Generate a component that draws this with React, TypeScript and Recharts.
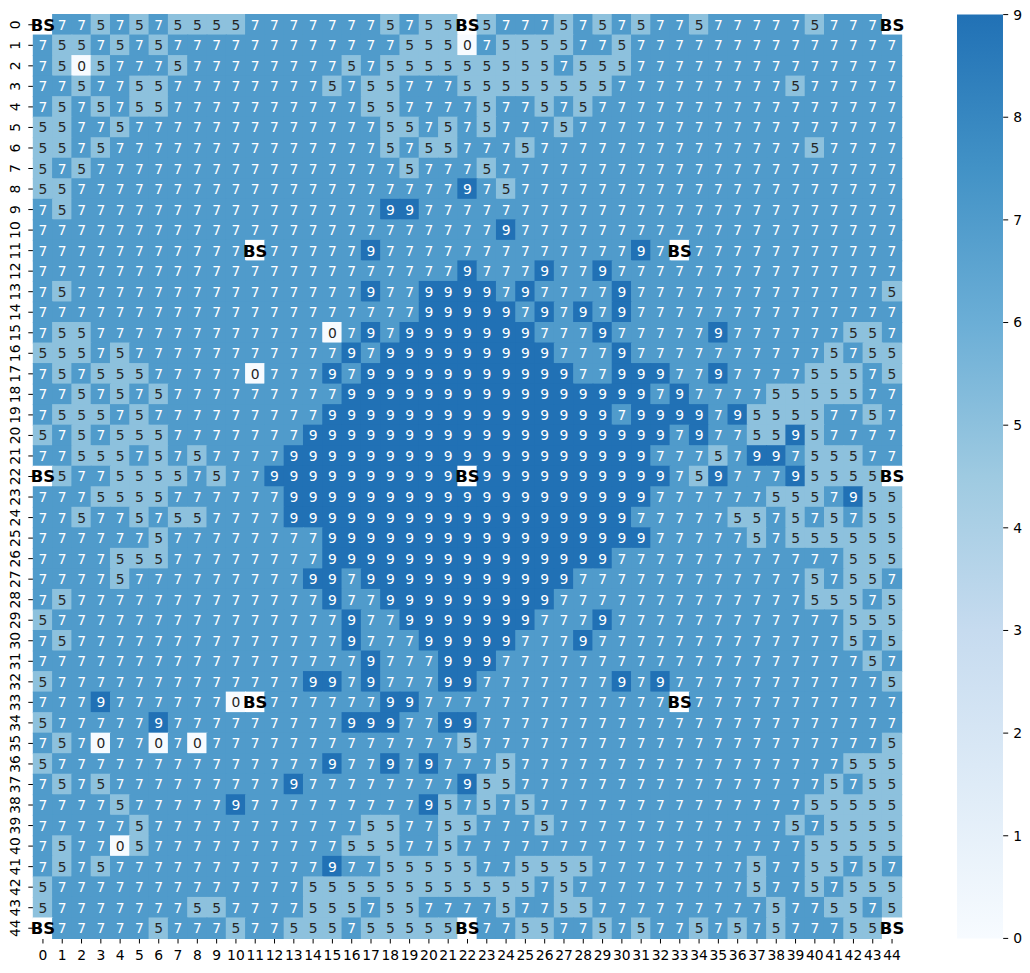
import { ScatterChart, Scatter, XAxis, YAxis, BarChart, Bar } from "recharts";

// B marks a "BS" cell: masked (white) with a bold label
const B = null;

const r00 = [B,7,7,5,7, 5,7,5,5,5, 5,7,7,7,7, 7,7,7,5,7, 5,5,B,5,7, 7,7,5,7,5, 7,5,7,7,5, 7,7,7,7,7, 5,7,7,7,B];
const r01 = [7,5,5,7,5, 7,5,7,7,7, 7,7,7,7,7, 7,7,7,7,5, 5,5,0,7,5, 5,5,5,7,7, 5,7,7,7,7, 7,7,7,7,7, 7,7,7,7,7];
const r02 = [7,5,0,5,7, 7,7,5,7,7, 7,7,7,7,7, 7,5,7,5,5, 5,5,5,5,5, 5,5,7,5,5, 5,7,7,7,7, 7,7,7,7,7, 7,7,7,7,7];
const r03 = [7,7,5,7,7, 5,5,7,7,7, 7,7,7,7,7, 5,7,5,5,7, 7,7,5,5,5, 5,5,5,5,5, 7,7,7,7,7, 7,7,7,7,5, 7,7,7,7,7];
const r04 = [7,5,7,5,7, 5,5,7,7,7, 7,7,7,7,7, 7,7,5,5,7, 7,7,7,5,7, 7,5,7,5,7, 7,7,7,7,7, 7,7,7,7,7, 7,7,7,7,7];
const r05 = [5,5,7,7,5, 7,7,7,7,7, 7,7,7,7,7, 7,7,7,5,5, 7,5,7,5,7, 7,7,5,7,7, 7,7,7,7,7, 7,7,7,7,7, 7,7,7,7,7];
const r06 = [5,5,7,5,7, 7,7,7,7,7, 7,7,7,7,7, 7,7,7,5,7, 5,5,7,7,7, 5,7,7,7,7, 7,7,7,7,7, 7,7,7,7,7, 5,7,7,7,7];
const r07 = [5,7,5,7,7, 7,7,7,7,7, 7,7,7,7,7, 7,7,7,7,5, 7,7,7,5,7, 7,7,7,7,7, 7,7,7,7,7, 7,7,7,7,7, 7,7,7,7,7];
const r08 = [5,5,7,7,7, 7,7,7,7,7, 7,7,7,7,7, 7,7,7,7,7, 7,7,9,7,5, 7,7,7,7,7, 7,7,7,7,7, 7,7,7,7,7, 7,7,7,7,7];
const r09 = [7,5,7,7,7, 7,7,7,7,7, 7,7,7,7,7, 7,7,7,9,9, 7,7,7,7,7, 7,7,7,7,7, 7,7,7,7,7, 7,7,7,7,7, 7,7,7,7,7];
const r10 = [7,7,7,7,7, 7,7,7,7,7, 7,7,7,7,7, 7,7,7,7,7, 7,7,7,7,9, 7,7,7,7,7, 7,7,7,7,7, 7,7,7,7,7, 7,7,7,7,7];
const r11 = [7,7,7,7,7, 7,7,7,7,7, 7,B,7,7,7, 7,7,9,7,7, 7,7,7,7,7, 7,7,7,7,7, 7,9,7,B,7, 7,7,7,7,7, 7,7,7,7,7];
const r12 = [7,7,7,7,7, 7,7,7,7,7, 7,7,7,7,7, 7,7,7,7,7, 7,7,9,7,7, 7,9,7,7,9, 7,7,7,7,7, 7,7,7,7,7, 7,7,7,7,7];
const r13 = [7,5,7,7,7, 7,7,7,7,7, 7,7,7,7,7, 7,7,9,7,7, 9,9,9,9,7, 9,7,7,7,7, 9,7,7,7,7, 7,7,7,7,7, 7,7,7,7,5];
const r14 = [7,7,7,7,7, 7,7,7,7,7, 7,7,7,7,7, 7,7,7,7,7, 9,9,9,9,9, 7,9,7,9,7, 9,7,7,7,7, 7,7,7,7,7, 7,7,7,7,7];
const r15 = [7,5,5,7,7, 7,7,7,7,7, 7,7,7,7,7, 0,7,9,7,9, 9,9,9,9,9, 9,7,7,7,9, 7,7,7,7,7, 9,7,7,7,7, 7,7,5,5,7];
const r16 = [5,5,5,7,5, 7,7,7,7,7, 7,7,7,7,7, 7,9,7,9,9, 9,9,9,9,9, 9,9,7,7,7, 9,7,7,7,7, 7,7,7,7,7, 7,5,7,5,5];
const r17 = [7,5,7,5,5, 5,7,7,7,7, 7,0,7,7,7, 9,7,9,9,9, 9,9,9,9,9, 9,9,9,7,7, 9,9,9,7,7, 9,7,7,7,7, 5,5,5,7,5];
const r18 = [7,7,5,7,5, 7,5,7,7,7, 7,7,7,7,7, 7,9,9,9,9, 9,9,9,9,9, 9,9,9,9,9, 9,9,7,9,7, 7,7,7,5,5, 5,5,5,7,7];
const r19 = [7,5,5,5,7, 5,7,7,7,7, 7,7,7,7,7, 9,9,9,9,9, 9,9,9,9,9, 9,9,9,9,9, 7,9,9,9,9, 7,9,5,5,5, 5,7,7,5,7];
const r20 = [5,7,5,7,5, 5,5,7,7,7, 7,7,7,7,9, 9,9,9,9,9, 9,9,9,9,9, 9,9,9,9,9, 9,9,9,7,9, 7,7,5,5,9, 5,7,7,7,7];
const r21 = [7,7,5,5,5, 7,5,7,5,7, 7,7,7,9,9, 9,9,9,9,9, 9,9,9,9,9, 9,9,9,9,9, 9,9,7,7,7, 5,7,9,9,7, 5,5,5,7,7];
const r22 = [B,5,7,7,5, 5,5,5,7,5, 7,7,9,9,9, 9,9,9,9,9, 9,9,B,9,9, 9,9,9,9,9, 9,9,9,7,5, 9,7,7,7,9, 5,5,5,5,B];
const r23 = [7,7,7,5,5, 5,5,7,7,7, 7,7,7,9,9, 9,9,9,9,9, 9,9,9,9,9, 9,9,9,9,9, 9,9,7,7,7, 7,7,7,5,5, 5,7,9,5,5];
const r24 = [7,7,5,7,7, 5,7,5,5,7, 7,7,7,9,9, 9,9,9,9,9, 9,9,9,9,9, 9,9,9,9,9, 9,7,7,7,7, 7,5,5,7,5, 7,5,7,5,5];
const r25 = [7,7,7,7,7, 7,5,7,7,7, 7,7,7,7,7, 9,9,9,9,9, 9,9,9,9,9, 9,9,9,9,9, 9,9,7,7,7, 7,7,5,7,5, 5,5,5,5,5];
const r26 = [7,7,7,7,5, 5,5,7,7,7, 7,7,7,7,7, 9,9,9,9,9, 9,9,9,9,9, 9,9,9,9,9, 7,7,7,7,7, 7,7,7,7,7, 7,7,5,5,5];
const r27 = [7,7,7,7,5, 7,7,7,7,7, 7,7,7,7,9, 9,7,9,9,9, 9,9,9,9,9, 9,9,9,7,7, 7,7,7,7,7, 7,7,7,7,7, 5,7,5,5,7];
const r28 = [7,5,7,7,7, 7,7,7,7,7, 7,7,7,7,7, 9,7,7,9,9, 9,9,9,9,9, 9,9,7,7,7, 7,7,7,7,7, 7,7,7,7,7, 5,5,5,7,5];
const r29 = [5,7,7,7,7, 7,7,7,7,7, 7,7,7,7,7, 7,9,7,7,9, 9,9,9,9,9, 9,7,7,7,9, 7,7,7,7,7, 7,7,7,7,7, 7,7,5,5,5];
const r30 = [7,5,7,7,7, 7,7,7,7,7, 7,7,7,7,7, 7,9,7,7,7, 9,9,9,9,9, 7,7,7,9,7, 7,7,7,7,7, 7,7,7,7,7, 7,7,5,7,5];
const r31 = [7,7,7,7,7, 7,7,7,7,7, 7,7,7,7,7, 7,7,9,7,7, 7,9,9,9,7, 7,7,7,7,7, 7,7,7,7,7, 7,7,7,7,7, 7,7,7,5,7];
const r32 = [5,7,7,7,7, 7,7,7,7,7, 7,7,7,7,9, 9,7,9,7,7, 7,9,9,7,7, 7,7,7,7,7, 9,7,9,7,7, 7,7,7,7,7, 7,7,7,7,5];
const r33 = [7,7,7,9,7, 7,7,7,7,7, 0,B,7,7,7, 7,7,7,9,9, 7,7,7,7,7, 7,7,7,7,7, 7,7,7,B,7, 7,7,7,7,7, 7,7,7,7,7];
const r34 = [5,7,7,7,7, 7,9,7,7,7, 7,7,7,7,7, 7,9,9,9,7, 7,9,9,7,7, 7,7,7,7,7, 7,7,7,7,7, 7,7,7,7,7, 7,7,7,7,7];
const r35 = [7,5,7,0,7, 7,0,7,0,7, 7,7,7,7,7, 7,7,7,7,7, 7,7,5,7,7, 7,7,7,7,7, 7,7,7,7,7, 7,7,7,7,7, 7,7,7,7,5];
const r36 = [5,7,7,7,7, 7,7,7,7,7, 7,7,7,7,7, 9,7,7,9,7, 9,7,7,7,5, 7,7,7,7,7, 7,7,7,7,7, 7,7,7,7,7, 7,7,5,5,5];
const r37 = [7,5,7,5,7, 7,7,7,7,7, 7,7,7,9,7, 7,7,7,7,7, 7,7,9,5,5, 7,7,7,7,7, 7,7,7,7,7, 7,7,7,7,7, 7,5,7,5,5];
const r38 = [7,7,7,7,5, 7,7,7,7,7, 9,7,7,7,7, 7,7,7,7,7, 9,5,7,5,7, 5,7,7,7,7, 7,7,7,7,7, 7,7,7,7,7, 5,5,5,5,5];
const r39 = [7,7,7,7,7, 5,7,7,7,7, 7,7,7,7,7, 7,7,5,5,7, 7,5,5,7,7, 7,5,7,7,7, 7,7,7,7,7, 7,7,7,7,5, 7,5,5,5,5];
const r40 = [7,5,7,7,0, 5,7,7,7,7, 7,7,7,7,7, 7,5,5,5,7, 7,5,7,7,7, 7,7,7,7,7, 7,7,7,7,7, 7,7,7,7,7, 5,5,5,5,5];
const r41 = [7,5,7,5,7, 7,7,7,7,7, 7,7,7,7,7, 9,7,7,5,5, 5,5,5,7,7, 5,5,5,5,7, 7,7,7,7,7, 7,7,5,7,7, 5,5,7,5,7];
const r42 = [5,7,7,7,7, 7,7,7,7,7, 7,7,7,7,5, 5,5,5,5,5, 5,5,5,5,5, 5,7,5,7,7, 7,7,7,7,7, 7,7,5,7,7, 5,7,5,5,5];
const r43 = [5,7,7,7,7, 7,7,7,5,5, 7,7,7,7,5, 5,5,7,5,5, 7,7,7,7,5, 7,7,5,5,7, 7,7,7,7,7, 7,7,7,5,7, 7,5,5,7,5];
const r44 = [B,7,7,7,7, 7,5,7,7,7, 5,7,7,5,5, 5,7,5,5,5, 5,5,B,7,7, 5,5,7,7,5, 7,5,7,7,5, 7,5,7,5,7, 7,7,5,5,B];

const rows = [
  r00, r01, r02, r03, r04, r05, r06, r07, r08, r09,
  r10, r11, r12, r13, r14, r15, r16, r17, r18, r19,
  r20, r21, r22, r23, r24, r25, r26, r27, r28, r29,
  r30, r31, r32, r33, r34, r35, r36, r37, r38, r39,
  r40, r41, r42, r43, r44,
];
const colLabels = r00.map((_, i) => String(i));
const rowLabels = rows.map((_, i) => String(i));
const cbTicks = [0, 1, 2, 3, 4, 5, 6, 7, 8, 9];
const VMAX = 9;

// matplotlib "Blues", lower three quarters
const BLUES = ["#f7fbff", "#deebf7", "#c6dbef", "#9ecae1", "#6baed6", "#4292c6", "#2171b5"];

const FONT = "DejaVu Sans";
const FS = 13.9;

// plot box inside the chart svg
const PLOT_LEFT = 25.3;
const PLOT_TOP = 6.5;
const PLOT_W = 868.4;
const PLOT_H = 924;
const CHART_H = 965;
const CELL_W = PLOT_W / colLabels.length;
const CELL_H = PLOT_H / rowLabels.length;

// colorbar: aspect 20 like matplotlib
const CB_LEFT = 949.3;
const CB_W = PLOT_H / 20;
const CB_AXIS_W = 24;

const rgb = (h: string) => [1, 3, 5].map((i) => parseInt(h.slice(i, i + 2), 16));

function cellColor(v: number) {
  const t = (v / VMAX) * (BLUES.length - 1);
  const i = Math.min(Math.floor(t), BLUES.length - 2);
  const f = t - i;
  const a = rgb(BLUES[i]);
  const b = rgb(BLUES[i + 1]);
  const c = a.map((x, k) => Math.round(x + (b[k] - x) * f));
  return `rgb(${c[0]},${c[1]},${c[2]})`;
}

const cells = rows.flatMap((row, r) =>
  row.map((v, c) => ({ x: c + 0.5, y: r + 0.5, v }))
);
const centers = colLabels.map((_, i) => i + 0.5);

function CellRect(props: any) {
  const { cx, cy, payload } = props;
  const fill = payload.v === null ? "#ffffff" : cellColor(payload.v);
  return (
    <rect
      x={cx - CELL_W / 2 - 0.5}
      y={cy - CELL_H / 2 - 0.5}
      width={CELL_W + 1}
      height={CELL_H + 1}
      fill={fill}
    />
  );
}

function CellText(props: any) {
  const { cx, cy, payload } = props;
  if (payload.v === null) {
    return (
      <text x={cx} y={cy} dy="0.36em" textAnchor="middle" fontSize={16.5} fontWeight="bold" fill="#000">
        BS
      </text>
    );
  }
  const light = payload.v <= 5;
  return (
    <text x={cx} y={cy} dy="0.36em" textAnchor="middle" fontSize={FS} fill={light ? "#262626" : "#ffffff"}>
      {payload.v}
    </text>
  );
}

function RowTick(props: any) {
  const { x, y, payload } = props;
  const bx = x - 3.1;
  return (
    <text x={bx} y={y} transform={`rotate(-90, ${bx}, ${y})`} textAnchor="middle" fontSize={FS} fill="#000">
      {rowLabels[Math.round(payload.value - 0.5)]}
    </text>
  );
}

export default function App() {
  return (
    <div style={{ position: "relative", width: 1014, height: CHART_H, fontFamily: FONT }}>
      <svg width={0} height={0} style={{ position: "absolute" }}>
        <defs>
          <linearGradient id="cbGrad" x1="0" y1="1" x2="0" y2="0">
            {BLUES.map((c, i) => (
              <stop key={c} offset={i / (BLUES.length - 1)} stopColor={c} />
            ))}
          </linearGradient>
        </defs>
      </svg>

      <div style={{ position: "absolute", left: 0, top: 0 }}>
        <ScatterChart
          width={PLOT_LEFT + PLOT_W + 6}
          height={CHART_H}
          margin={{ top: PLOT_TOP, right: 6, bottom: CHART_H - PLOT_TOP - PLOT_H - 30, left: 0 }}
        >
          <XAxis
            type="number"
            dataKey="x"
            domain={[0, colLabels.length]}
            ticks={centers}
            interval={0}
            tickFormatter={(v: number) => colLabels[Math.round(v - 0.5)]}
            height={30}
            axisLine={false}
            stroke="#000"
            tickSize={5}
            tickMargin={6.5}
            tick={{ fill: "#000", fontSize: FS }}
          />
          <YAxis
            type="number"
            dataKey="y"
            domain={[0, rowLabels.length]}
            reversed
            ticks={centers}
            interval={0}
            width={PLOT_LEFT}
            axisLine={false}
            stroke="#000"
            tickSize={5}
            tickMargin={5}
            tick={<RowTick />}
          />
          <Scatter data={cells} shape={<CellRect />} isAnimationActive={false} />
          <Scatter data={cells} shape={<CellText />} isAnimationActive={false} />
        </ScatterChart>
      </div>

      <div style={{ position: "absolute", left: CB_LEFT, top: 0 }}>
        <BarChart
          width={CB_W + CB_AXIS_W}
          height={CHART_H}
          data={[{ name: "cb", v: VMAX }]}
          margin={{ top: PLOT_TOP, right: 0, bottom: CHART_H - PLOT_TOP - PLOT_H, left: 0 }}
          barCategoryGap={0}
        >
          <XAxis dataKey="name" hide />
          <YAxis
            orientation="right"
            type="number"
            domain={[0, VMAX]}
            ticks={cbTicks}
            interval={0}
            width={CB_AXIS_W}
            axisLine={false}
            stroke="#000"
            tickSize={5}
            tickMargin={5}
            tick={{ fill: "#000", fontSize: FS }}
          />
          <Bar dataKey="v" fill="url(#cbGrad)" isAnimationActive={false} />
        </BarChart>
      </div>
    </div>
  );
}
